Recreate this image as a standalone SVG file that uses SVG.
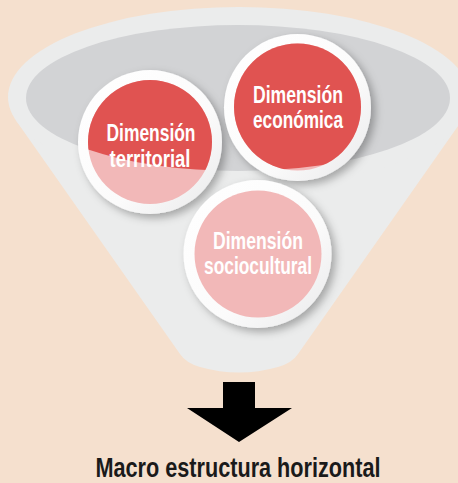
<svg xmlns="http://www.w3.org/2000/svg" width="458" height="483" viewBox="0 0 458 483">
  <style>
    .lbl { font-family: "Liberation Sans", Arial, sans-serif; font-weight: bold; font-size: 23.5px; fill: #ffffff; text-anchor: middle; }
    .title { font-family: "Liberation Sans", Arial, sans-serif; font-weight: bold; font-size: 27px; fill: #1a1a1a; text-anchor: middle; }
    .ring { fill: url(#ringGrad); filter: url(#shadow); }
    .red { fill: #E05351; }
    .pink { fill: #F2B8B8; }
  </style>
  <defs>
    <linearGradient id="ringGrad" x1="0" y1="0" x2="1" y2="1">
      <stop offset="0" stop-color="#ffffff"/>
      <stop offset="0.6" stop-color="#fbfbfb"/>
      <stop offset="1" stop-color="#e9e9ea"/>
    </linearGradient>
    <filter id="shadow" x="-30%" y="-30%" width="160%" height="160%">
      <feDropShadow dx="4" dy="4" stdDeviation="4" flood-color="#000000" flood-opacity="0.3"/>
    </filter>
    <clipPath id="darkClip">
      <ellipse cx="238" cy="98" rx="212" ry="73"/>
    </clipPath>
  </defs>

  <rect x="0" y="0" width="458" height="483" fill="#F5E0CE"/>

  <g id="funnel">
    <path d="M15.7,120 L180,354 Q186,363 200,367 Q239,378 278,367 Q292,363 298,354 L462.3,120 Z" fill="#EBECEC"/>
    <ellipse cx="239" cy="97" rx="231" ry="90" fill="#EBECEC"/>
    <ellipse cx="238" cy="98" rx="212" ry="73" fill="#D2D3D5"/>
  </g>

  <g id="node-territorial">
    <circle class="ring" cx="150" cy="142" r="72"/>
    <circle class="pink" cx="150" cy="142" r="62"/>
    <circle class="red" cx="150" cy="142" r="62" clip-path="url(#darkClip)"/>
    <text class="lbl" x="151" y="141" textLength="89" lengthAdjust="spacingAndGlyphs">Dimensión</text>
    <text class="lbl" x="150" y="167" textLength="81" lengthAdjust="spacingAndGlyphs">territorial</text>
  </g>

  <g id="node-economica">
    <circle class="ring" cx="297.5" cy="107.5" r="73.5"/>
    <circle class="pink" cx="297.5" cy="107" r="63.5"/>
    <circle class="red" cx="297.5" cy="107" r="63.5" clip-path="url(#darkClip)"/>
    <text class="lbl" x="298" y="103" textLength="90" lengthAdjust="spacingAndGlyphs">Dimensión</text>
    <text class="lbl" x="298" y="128" textLength="90" lengthAdjust="spacingAndGlyphs">económica</text>
  </g>

  <g id="node-sociocultural">
    <circle class="ring" cx="257.5" cy="254" r="74"/>
    <circle class="pink" cx="258" cy="254" r="63.5"/>
    <text class="lbl" x="258" y="249" textLength="90" lengthAdjust="spacingAndGlyphs">Dimensión</text>
    <text class="lbl" x="258" y="274" textLength="108" lengthAdjust="spacingAndGlyphs">sociocultural</text>
  </g>

  <g id="connectors">
    <polygon points="223,382 255,382 255,408 292,408 239,442 187,408 223,408" fill="#000000"/>
  </g>

  <g id="node-result">
    <text class="title" x="238" y="477" textLength="285" lengthAdjust="spacingAndGlyphs">Macro estructura horizontal</text>
  </g>
</svg>
